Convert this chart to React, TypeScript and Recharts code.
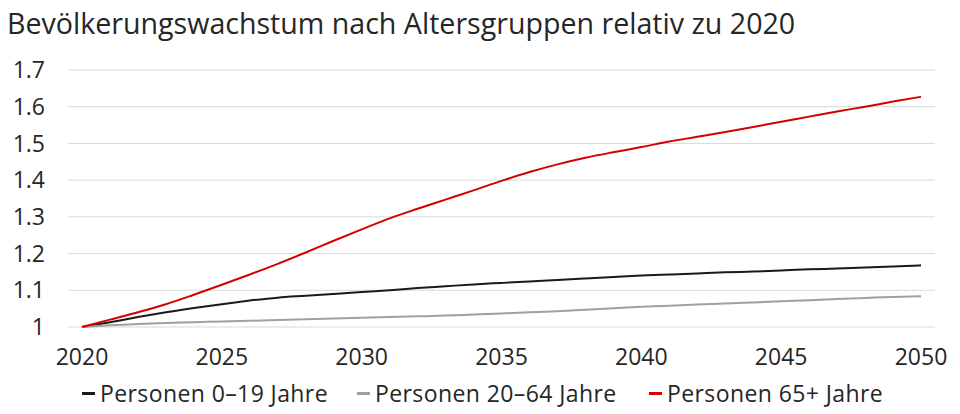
import React from 'react';
import { LineChart, Line, XAxis, YAxis, CartesianGrid } from 'recharts';

const years = [
  2020, 2021, 2022, 2023, 2024, 2025, 2026, 2027, 2028, 2029, 2030,
  2031, 2032, 2033, 2034, 2035, 2036, 2037, 2038, 2039, 2040,
  2041, 2042, 2043, 2044, 2045, 2046, 2047, 2048, 2049, 2050,
];

const age0to19 = [
  1.0, 1.013, 1.027, 1.04, 1.052, 1.062, 1.072, 1.08, 1.085, 1.09, 1.095,
  1.1, 1.106, 1.111, 1.116, 1.12, 1.124, 1.128, 1.132, 1.136, 1.14,
  1.143, 1.146, 1.149, 1.151, 1.154, 1.157, 1.159, 1.162, 1.165, 1.168,
];

const age20to64 = [
  1.0, 1.005, 1.008, 1.011, 1.013, 1.015, 1.017, 1.019, 1.021, 1.023, 1.025,
  1.027, 1.029, 1.031, 1.034, 1.037, 1.04, 1.043, 1.047, 1.051, 1.055,
  1.058, 1.061, 1.064, 1.067, 1.07, 1.073, 1.076, 1.079, 1.082, 1.084,
];

const age65plus = [
  1.0, 1.02, 1.04, 1.062, 1.088, 1.115, 1.143, 1.172, 1.203, 1.235, 1.266,
  1.296, 1.322, 1.347, 1.372, 1.398, 1.422, 1.443, 1.461, 1.476, 1.49,
  1.505, 1.518, 1.531, 1.545, 1.559, 1.573, 1.587, 1.6, 1.614, 1.627,
];

const xTicks = [2020, 2025, 2030, 2035, 2040, 2045, 2050];
const yTicks = [1, 1.1, 1.2, 1.3, 1.4, 1.5, 1.6, 1.7];

const series = [
  { key: 'a', name: 'Personen 0–19 Jahre', color: '#1a1a1a', left: 82 },
  { key: 'b', name: 'Personen 20–64 Jahre', color: '#a0a0a0', left: 357 },
  { key: 'c', name: 'Personen 65+ Jahre', color: '#d40000', left: 649 },
];

const data = years.map((year, i) => ({
  year,
  a: age0to19[i],
  b: age20to64[i],
  c: age65plus[i],
}));

const FONT = '"Open Sans", sans-serif';
const TEXT = '#262626';

export default function App() {
  return (
    <div style={{ position: 'absolute', left: 0, top: 0, width: 960, height: 414, background: '#fff', fontFamily: FONT }}>
      <div style={{ position: 'absolute', left: 7, top: 2.5, fontSize: 28.6, color: TEXT, whiteSpace: 'nowrap' }}>
        Bevölkerungswachstum nach Altersgruppen relativ zu 2020
      </div>
      <LineChart width={960} height={414} data={data} margin={{ top: 70, right: 25, bottom: 47, left: 0 }}>
        <CartesianGrid horizontal vertical={false} stroke="#d9d9d9" strokeWidth={1} />
        <XAxis
          dataKey="year"
          type="number"
          domain={[2020, 2050]}
          ticks={xTicks}
          padding={{ left: 14, right: 14 }}
          axisLine={false}
          tickLine={false}
          tickSize={0}
          tickMargin={22}
          height={40}
          tick={{ fill: TEXT, fontSize: 23, fontFamily: FONT }}
        />
        <YAxis
          type="number"
          domain={[1, 1.7]}
          ticks={yTicks}
          width={68}
          axisLine={false}
          tickLine={false}
          tickSize={0}
          tickMargin={23}
          tickFormatter={(v: number) => String(Math.round(v * 10) / 10)}
          tick={{ fill: TEXT, fontSize: 23, fontFamily: FONT }}
        />
        {series.map(s => (
          <Line
            key={s.key}
            type="monotone"
            dataKey={s.key}
            name={s.name}
            stroke={s.color}
            strokeWidth={2}
            dot={false}
            isAnimationActive={false}
          />
        ))}
      </LineChart>
      {series.map(s => (
        <div
          key={s.key}
          style={{ position: 'absolute', left: s.left, top: 378, height: 30, display: 'flex', alignItems: 'center', fontSize: 23, letterSpacing: 0.4, color: TEXT, whiteSpace: 'nowrap' }}
        >
          <span style={{ display: 'inline-block', width: 13, height: 3, background: s.color, marginRight: 5 }} />
          {s.name}
        </div>
      ))}
    </div>
  );
}
